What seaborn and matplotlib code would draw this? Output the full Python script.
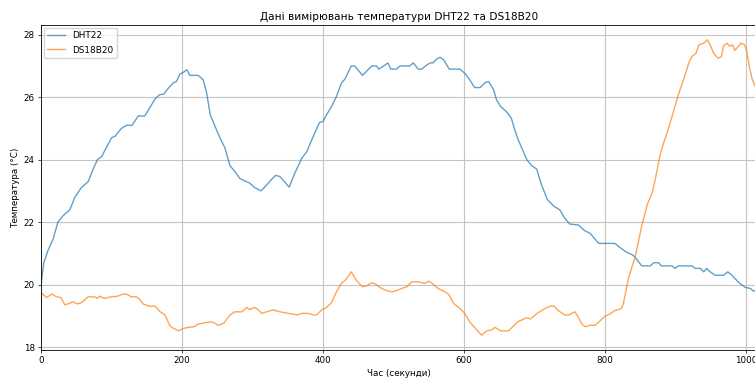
import matplotlib
matplotlib.use("Agg")
import matplotlib.pyplot as plt
import seaborn as sns
import pandas as pd

# DHT22 readings: time (s) and temperature (°C)
dht_time = [0, 4, 10, 17, 24, 31, 41, 48, 57, 67, 74, 80, 86, 93, 100, 105, 114, 121,
            129, 138, 147, 154, 161, 168, 174, 181, 188, 192, 197, 202, 207, 211, 223,
            230, 235, 240, 247, 254, 261, 268, 275, 282, 289, 296, 303, 312, 320, 327,
            333, 339, 352, 360, 370, 377, 386, 395, 400, 405, 412, 419, 426, 431, 440,
            445, 456, 469, 476, 479, 486, 492, 496, 504, 509, 523, 528, 535, 540, 545,
            552, 556, 561, 566, 571, 579, 594, 601, 608, 615, 623, 630, 635, 642, 646,
            652, 660, 667, 672, 677, 682, 689, 696, 703, 710, 718, 727, 736, 743, 750,
            762, 771, 779, 791, 814, 821, 831, 839, 843, 852, 864, 869, 876, 880, 895,
            899, 904, 923, 928, 935, 940, 944, 949, 956, 968, 974, 980, 984, 991, 999,
            1006, 1010, 1016]
dht_temp = [20.0, 20.7, 21.1, 21.45, 22.0, 22.2, 22.4, 22.8, 23.1, 23.3, 23.7, 24.0, 24.1,
            24.4, 24.7, 24.75, 25.0, 25.1, 25.1, 25.4, 25.4, 25.65, 25.92, 26.08, 26.1,
            26.3, 26.47, 26.5, 26.74, 26.8, 26.88, 26.7, 26.7, 26.56, 26.13, 25.44, 25.06,
            24.69, 24.37, 23.81, 23.62, 23.4, 23.32, 23.25, 23.11, 23.0, 23.19, 23.37,
            23.5, 23.46, 23.12, 23.57, 24.05, 24.26, 24.74, 25.19, 25.22, 25.44, 25.7,
            26.02, 26.45, 26.58, 27.0, 27.0, 26.7, 27.0, 27.0, 26.9, 27.0, 27.1, 26.9,
            26.9, 27.0, 27.0, 27.1, 26.9, 26.9, 27.0, 27.1, 27.1, 27.22, 27.28, 27.2,
            26.9, 26.9, 26.77, 26.56, 26.31, 26.31, 26.47, 26.5, 26.24, 25.92, 25.7,
            25.54, 25.33, 24.95, 24.63, 24.37, 24.0, 23.81, 23.7, 23.19, 22.73, 22.52,
            22.39, 22.12, 21.94, 21.91, 21.73, 21.64, 21.32, 21.32, 21.19, 21.03, 20.95,
            20.87, 20.6, 20.6, 20.7, 20.7, 20.6, 20.6, 20.52, 20.6, 20.6, 20.52, 20.52,
            20.41, 20.52, 20.41, 20.3, 20.3, 20.41, 20.3, 20.2, 20.04, 19.91, 19.88,
            19.8, 19.8]

# DS18B20 readings: time (s) and temperature (°C)
ds_time = [0, 8, 16, 22, 28, 34, 38, 45, 52, 57, 67, 76, 80, 83, 90, 100, 109, 116, 121,
           128, 135, 139, 145, 154, 162, 169, 176, 183, 188, 195, 202, 209, 217, 223, 233,
           242, 247, 251, 259, 268, 275, 285, 292, 296, 303, 308, 313, 320, 329, 339, 351,
           363, 370, 379, 386, 391, 398, 405, 412, 419, 426, 432, 440, 448, 456, 462, 469,
           474, 483, 490, 498, 507, 512, 519, 526, 535, 544, 550, 555, 563, 573, 579, 585,
           594, 601, 608, 618, 625, 632, 639, 644, 652, 663, 670, 676, 682, 689, 694, 705,
           715, 724, 728, 734, 743, 749, 757, 762, 767, 772, 779, 786, 793, 800, 807, 814,
           823, 826, 833, 843, 852, 860, 867, 871, 878, 883, 890, 897, 904, 912, 919, 923,
           929, 933, 940, 945, 949, 954, 960, 965, 968, 973, 977, 981, 984, 989, 993, 998,
           1001, 1005, 1009, 1013, 1016]
ds_temp = [19.74, 19.59, 19.7, 19.61, 19.59, 19.35, 19.38, 19.45, 19.38, 19.42, 19.61,
           19.61, 19.56, 19.63, 19.56, 19.61, 19.63, 19.7, 19.7, 19.61, 19.61, 19.55,
           19.38, 19.31, 19.31, 19.13, 19.03, 18.67, 18.6, 18.52, 18.6, 18.63, 18.65,
           18.74, 18.78, 18.81, 18.76, 18.7, 18.76, 19.03, 19.13, 19.13, 19.27, 19.2,
           19.27, 19.2, 19.08, 19.13, 19.19, 19.13, 19.08, 19.03, 19.08, 19.08, 19.03,
           19.03, 19.19, 19.27, 19.42, 19.77, 20.04, 20.15, 20.41, 20.12, 19.93, 19.96,
           20.06, 20.02, 19.88, 19.81, 19.77, 19.83, 19.88, 19.93, 20.09, 20.09, 20.04,
           20.11, 20.04, 19.88, 19.77, 19.67, 19.4, 19.24, 19.08, 18.81, 18.55, 18.38,
           18.52, 18.55, 18.63, 18.52, 18.52, 18.67, 18.81, 18.87, 18.94, 18.9, 19.1,
           19.24, 19.32, 19.31, 19.16, 19.03, 19.03, 19.13, 18.97, 18.74, 18.65, 18.7,
           18.7, 18.84, 18.99, 19.06, 19.17, 19.23, 19.39, 20.19, 20.92, 21.88, 22.57,
           22.95, 23.35, 24.15, 24.53, 25.0, 25.54, 26.08, 26.61, 27.11, 27.3, 27.41,
           27.68, 27.73, 27.84, 27.68, 27.41, 27.25, 27.3, 27.65, 27.73, 27.63, 27.68,
           27.5, 27.63, 27.73, 27.68, 27.47, 26.93, 26.56, 26.34, 26.25]

title = "Дані вимірювань температури DHT22 та DS18B20"
x_label = "Час (секунди)"
y_label = "Температура (°C)"

plt.rcParams["font.family"] = ["DejaVu Sans"]
plt.rcParams["font.size"] = 6.3

dht = pd.DataFrame({"t": dht_time, "temp": dht_temp})
ds = pd.DataFrame({"t": ds_time, "temp": ds_temp})

fig = plt.figure(figsize=(7.55, 3.78), dpi=100)
ax = fig.add_axes([41 / 755, 1 - 350 / 378, 716 / 755, 325 / 378])

sns.lineplot(data=dht, x="t", y="temp", ax=ax, label="DHT22", color="#1f77b4",
             alpha=0.7, linewidth=1.0, estimator=None, sort=False)
sns.lineplot(data=ds, x="t", y="temp", ax=ax, label="DS18B20", color="#ff7f0e",
             alpha=0.7, linewidth=1.0, estimator=None, sort=False)

ax.set_xlim(0, 1015.5)
ax.set_title(title, fontsize=7.6, pad=3.8)
ax.set_xlabel(x_label, fontsize=6.3, labelpad=2.5)
ax.set_ylabel(y_label, fontsize=6.3, labelpad=2.5)
ax.tick_params(labelsize=6.3, length=2.2, width=0.5, pad=2.2)
ax.grid(True, color="#c4c4c4", linewidth=0.8)
for s in ax.spines.values():
    s.set_linewidth(0.6)
ax.legend(loc="upper left", fontsize=6.4, frameon=True, borderaxespad=0.3,
          handlelength=2.0, labelspacing=0.6)

fig.savefig("out.png", dpi=100)
